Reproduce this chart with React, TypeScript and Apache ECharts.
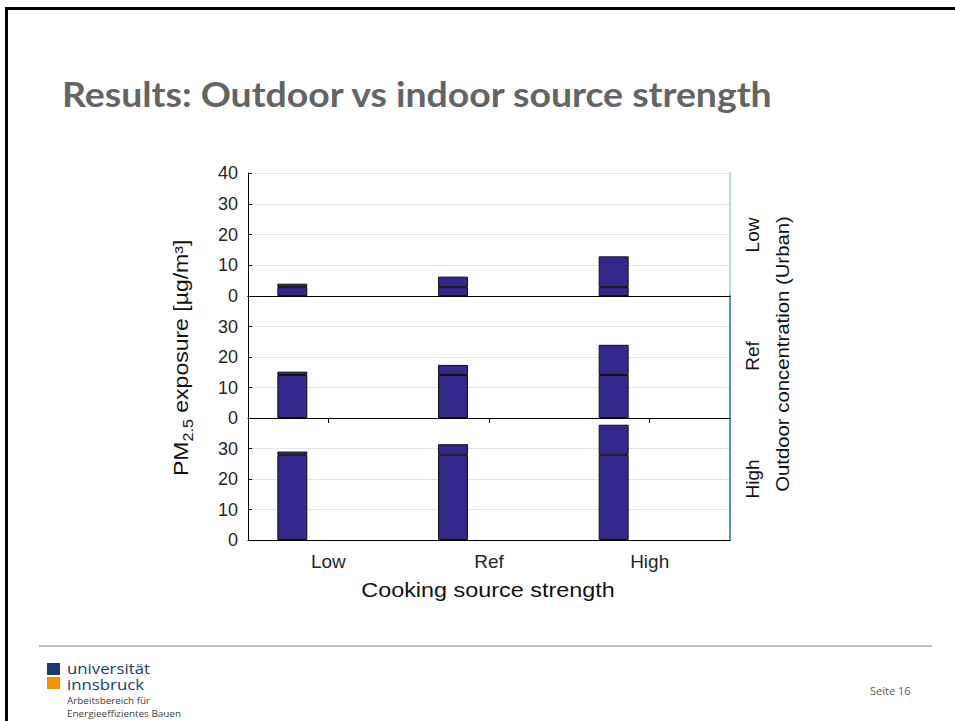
import React, { useEffect, useRef } from 'react';
import * as echarts from 'echarts';

// Categories
const cookingLevels = ['Low', 'Ref', 'High'];
const outdoorLevels = ['Low', 'Ref', 'High'];
const yTickMax = 40;
const yTickStep = 10;

// Outdoor contribution (lower segment) per bar, one panel per outdoor level
const outdoorPartLow = [2.9, 2.9, 2.9];
const outdoorPartRef = [14.1, 14.1, 14.1];
const outdoorPartHigh = [27.9, 27.9, 27.9];
// Total exposure (top of bar) per cooking level
const totalLow = [4.0, 6.3, 12.9];
const totalRef = [15.2, 17.4, 24.0];
const totalHigh = [29.0, 31.4, 37.8];

const outdoorParts = [outdoorPartLow, outdoorPartRef, outdoorPartHigh];
const totals = [totalLow, totalRef, totalHigh];

const FONT = '"Liberation Sans", Arial, Helvetica, sans-serif';
const BAR = '#33298a';

export default function App() {
  const ref = useRef<HTMLDivElement>(null);

  useEffect(() => {
    if (!ref.current) return;
    const chart = echarts.init(ref.current, undefined, { renderer: 'svg' });

    const tops = [173, 296, 418];
    const heights = [123, 122, 122];

    const grid = tops.map((t, i) => ({
      left: 248,
      top: t,
      width: 482,
      height: heights[i],
      containLabel: false,
      outerBoundsMode: 'none',
    }));

    const xAxis: any[] = [0, 1, 2].map((i) => ({
      type: 'category',
      gridIndex: i,
      data: cookingLevels,
      position: 'bottom',
      axisLine: { show: true, onZero: false, lineStyle: { color: '#000', width: 1 } },
      axisTick: { show: i === 1, alignWithLabel: true, length: 5, lineStyle: { color: '#000' } },
      axisLabel: { show: i === 2, fontSize: 19, color: '#262626', fontFamily: FONT, margin: 12 },
      splitLine: { show: false },
    }));
    xAxis.push({
      type: 'category',
      gridIndex: 0,
      data: cookingLevels,
      position: 'top',
      axisLine: { show: true, lineStyle: { color: '#000', width: 1 } },
      axisTick: { show: false },
      axisLabel: { show: false },
    });

    const yAxis: any[] = [0, 1, 2].map((i) => ({
      type: 'value',
      gridIndex: i,
      min: 0,
      max: yTickMax,
      interval: yTickStep,
      position: 'left',
      axisLine: { show: true, lineStyle: { color: '#000', width: 1 } },
      axisTick: { show: true, inside: true, length: 4, lineStyle: { color: '#000' } },
      axisLabel: {
        fontSize: 18,
        color: '#262626',
        fontFamily: FONT,
        margin: 10,
        formatter: (v: number) => (i > 0 && v === yTickMax ? '' : String(v)),
      },
      splitLine: { show: true, lineStyle: { color: '#e3e3e3', width: 1 } },
    }));
    [0, 1, 2].forEach((i) => {
      yAxis.push({
        type: 'value',
        gridIndex: i,
        min: 0,
        max: yTickMax,
        position: 'right',
        axisLine: { show: true, lineStyle: { color: i === 0 ? '#9ccbe9' : '#1f6dae', width: 1.5 } },
        axisTick: { show: false },
        axisLabel: { show: false },
        splitLine: { show: false },
      });
    });

    const series: any[] = [];
    totals.forEach((tot, p) => {
      const base = outdoorParts[p];
      series.push({
        type: 'bar',
        name: 'Outdoor ' + outdoorLevels[p],
        xAxisIndex: p,
        yAxisIndex: p,
        stack: 's' + p,
        barWidth: 30,
        barGap: '140%',
        data: base,
        itemStyle: { color: BAR, borderColor: '#111', borderWidth: 1 },
      });
      series.push({
        type: 'bar',
        name: 'Cooking ' + outdoorLevels[p],
        xAxisIndex: p,
        yAxisIndex: p,
        stack: 's' + p,
        barWidth: 30,
        barGap: '140%',
        data: tot.map((t, k) => +(t - base[k]).toFixed(2)),
        itemStyle: { color: BAR, borderColor: '#111', borderWidth: 1 },
      });
      series.push({
        type: 'bar',
        name: 'spacer ' + p,
        xAxisIndex: p,
        yAxisIndex: p,
        stack: 'e' + p,
        barWidth: 30,
        barGap: '140%',
        data: ['-', '-', '-'],
        silent: true,
      });
    });

    const txt = (text: string, x: number, y: number, font: string, fill: string, extra: any = {}, align = 'left') => ({
      type: 'text',
      x,
      y,
      silent: true,
      ...extra,
      style: { text, font, fill, align, textAlign: align, verticalAlign: 'middle', textVerticalAlign: 'middle' },
    });

    const graphic: any[] = [
      // slide frame
      { type: 'rect', shape: { x: 5, y: 7, width: 950, height: 3 }, style: { fill: '#000' }, silent: true },
      { type: 'rect', shape: { x: 5, y: 7, width: 3, height: 714 }, style: { fill: '#000' }, silent: true },
      // title
      txt('Results: Outdoor vs indoor source strength', 62, 94, 'bold 34px Lato', '#646464', { scaleX: 1.1 }),
      // y axis name
      {
        type: 'group',
        x: 181,
        y: 476,
        rotation: Math.PI / 2,
        scaleX: 1.15,
        silent: true,
        children: [
          txt('PM', 0, 0, '20px ' + FONT, '#111'),
          txt('2.5', 30, 7, '14px ' + FONT, '#111'),
          txt(' exposure [µg/m³]', 49.5, 0, '20px ' + FONT, '#111'),
        ],
      },
      // x axis name
      txt('Cooking source strength', 488, 590, '20px ' + FONT, '#111', { scaleX: 1.17 }, 'center'),
      // right facet labels
      txt('Low', 752, 235, '19px ' + FONT, '#111', { rotation: Math.PI / 2 }, 'center'),
      txt('Ref', 752, 356, '19px ' + FONT, '#111', { rotation: Math.PI / 2 }, 'center'),
      txt('High', 752, 479, '19px ' + FONT, '#111', { rotation: Math.PI / 2 }, 'center'),
      txt('Outdoor concentration (Urban)', 783, 354, '18px ' + FONT, '#111', { rotation: Math.PI / 2, scaleX: 1.13 }, 'center'),
      // footer
      { type: 'rect', shape: { x: 39, y: 645, width: 893, height: 2 }, style: { fill: '#bdbdbd' }, silent: true },
      { type: 'rect', shape: { x: 47, y: 663, width: 13, height: 12 }, style: { fill: '#1b3a6b' }, silent: true },
      { type: 'rect', shape: { x: 47, y: 677, width: 13, height: 12 }, style: { fill: '#f39200' }, silent: true },
      txt('universität', 67, 668, '15px "Open Sans"', '#1b3a6b', { scaleX: 1.12 }),
      txt('innsbruck', 67, 684, '15px "Open Sans"', '#1b3a6b', { scaleX: 1.12 }),
      txt('Arbeitsbereich für', 67, 701, '9px "Open Sans"', '#404040', { scaleX: 1.1 }),
      txt('Energieeffizientes Bauen', 67, 714, '9px "Open Sans"', '#404040', { scaleX: 1.1 }),
      txt('Seite 16', 870, 690, '11px "Open Sans"', '#595959'),
    ];

    chart.setOption({
      animation: false,
      backgroundColor: '#fff',
      grid,
      xAxis,
      yAxis,
      series,
      graphic,
    });

    return () => chart.dispose();
  }, []);

  return <div ref={ref} style={{ position: 'fixed', left: 0, top: 0, width: 955, height: 721 }} />;
}
